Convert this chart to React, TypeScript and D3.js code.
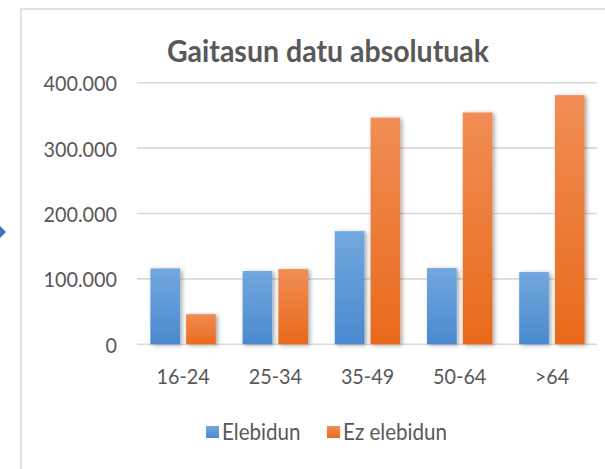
import React from "react"
import * as d3 from "d3"

const categories = ["16-24", "25-34", "35-49", "50-64", ">64"]
const series = ["Elebidun", "Ez elebidun"]
const elebidun = [116000, 112000, 173000, 116500, 110500]
const ezElebidun = [46000, 115000, 346500, 354500, 381000]
const yTicks = [0, 100000, 200000, 300000, 400000]
const title = "Gaitasun datu absolutuak"

const W = 605
const H = 469
const FONT = "Lato, 'Open Sans', sans-serif"
const GREY = "#595959"

const gradients = [
  { id: "gBlue", top: "#72a8de", bottom: "#4a89cf" },
  { id: "gOrange", top: "#f18d55", bottom: "#e86a1b" },
]

const fmt = (v: number) =>
  v === 0 ? "0" : d3.format(",")(v).replace(/,/g, ".")

export default function App() {
  const x = d3.scaleBand().domain(categories).range([137, 598])
  const inner = d3
    .scaleBand()
    .domain(series)
    .range([13.4, x.bandwidth() - 13.4])
    .paddingInner(0.17)
  const y = d3.scaleLinear().domain([0, 400000]).range([344.3, 82.7])

  const rows = categories.map((c, i) => ({
    cat: c,
    vals: [elebidun[i], ezElebidun[i]],
  }))

  return (
    <svg
      width={W}
      height={H}
      style={{ position: "fixed", left: 0, top: 0, background: "#fff" }}
      fontFamily={FONT}
    >
      <defs>
        {gradients.map((g) => (
          <linearGradient key={g.id} id={g.id} x1="0" y1="0" x2="0" y2="1">
            <stop offset="0" stopColor={g.top} />
            <stop offset="1" stopColor={g.bottom} />
          </linearGradient>
        ))}
        <filter id="shadow" x="-30%" y="-10%" width="160%" height="130%">
          <feDropShadow dx="2" dy="1" stdDeviation="2" floodColor="#000" floodOpacity="0.35" />
        </filter>
      </defs>

      <rect x={21} y={9} width={640} height={520} fill="#fff" stroke="#d9d9d9" strokeWidth={1.5} />
      <path d="M0,226 L6,232 L0,238 Z" fill="#3a78b8" />

      <text
        transform={`translate(328,61.5) scale(1,1.05)`}
        textAnchor="middle"
        fontSize={28.5}
        fontWeight="bold"
        fill={GREY}
      >
        {title}
      </text>

      {yTicks.map((t) => (
        <g key={t}>
          <line x1={137} x2={597} y1={y(t)} y2={y(t)} stroke="#d9d9d9" strokeWidth={1.6} />
          <text
            transform={`translate(117,${y(t) + 8.4}) scale(1,1.1)`}
            textAnchor="end"
            fontSize={19.8}
            fill={GREY}
          >
            {fmt(t)}
          </text>
        </g>
      ))}

      {rows.map((r) => (
        <g key={r.cat} transform={`translate(${x(r.cat)},0)`}>
          {r.vals.map((v, j) => (
            <rect
              key={j}
              x={inner(series[j])}
              y={y(v)}
              width={inner.bandwidth()}
              height={y(0) - y(v)}
              fill={`url(#${gradients[j].id})`}
              filter="url(#shadow)"
            />
          ))}
          <text
            transform={`translate(${x.bandwidth() / 2},384) scale(1,1.1)`}
            textAnchor="middle"
            fontSize={19.8}
            fill={GREY}
          >
            {r.cat}
          </text>
        </g>
      ))}

      {series.map((s, j) => {
        const lx = [206, 327][j]
        return (
          <g key={s}>
            <rect x={lx} y={426} width={13} height={12} fill={`url(#${gradients[j].id})`} />
            <text
              transform={`translate(${lx + 16},440) scale(1,1.1)`}
              fontSize={20.6}
              fill={GREY}
            >
              {s}
            </text>
          </g>
        )
      })}
    </svg>
  )
}
